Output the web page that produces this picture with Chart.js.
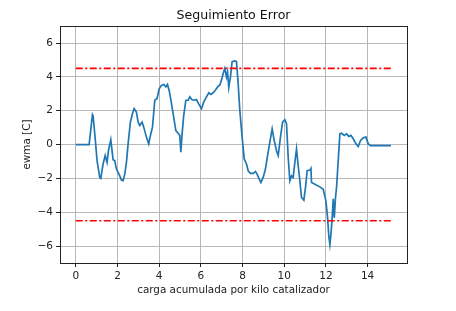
<!DOCTYPE html>
<html>
<head>
<meta charset="utf-8">
<script src="https://cdn.jsdelivr.net/npm/chart.js@4/dist/chart.umd.min.js"></script>
<style>
html,body{margin:0;padding:0;background:#fff;}
#wrap{width:456px;height:311px;}
</style>
</head>
<body>
<div id="wrap"><canvas id="c" width="456" height="311"></canvas></div>
<script>
const chartTitle = "Seguimiento Error";
const xAxisTitle = "carga acumulada por kilo catalizador";
const yAxisTitle = "ewma [C]";
const xTicks = [0, 2, 4, 6, 8, 10, 12, 14];
const yTicks = [-6, -4, -2, 0, 2, 4, 6];

const ewmaX = [0, 0.64, 0.8, 0.83, 0.94, 1.02, 1.15, 1.2, 1.31, 1.41, 1.5, 1.57, 1.68, 1.73, 1.79, 1.87, 1.95, 2.03, 2.11, 2.19, 2.27, 2.35, 2.43, 2.51, 2.62, 2.72, 2.8, 2.91, 2.99, 3.07, 3.18, 3.26, 3.39, 3.5, 3.58, 3.68, 3.79, 3.9, 4.0, 4.11, 4.22, 4.32, 4.4, 4.48, 4.56, 4.67, 4.8, 4.91, 4.99, 5.04, 5.1, 5.18, 5.28, 5.39, 5.47, 5.57, 5.66, 5.79, 5.89, 6.03, 6.14, 6.27, 6.38, 6.48, 6.59, 6.72, 6.83, 6.91, 6.99, 7.07, 7.15, 7.23, 7.28, 7.34, 7.42, 7.5, 7.63, 7.71, 7.79, 7.87, 7.98, 8.08, 8.19, 8.27, 8.38, 8.51, 8.62, 8.7, 8.8, 8.88, 8.99, 9.1, 9.2, 9.31, 9.42, 9.52, 9.63, 9.71, 9.82, 9.92, 10.03, 10.11, 10.19, 10.27, 10.35, 10.43, 10.51, 10.59, 10.67, 10.75, 10.83, 10.94, 11.02, 11.1, 11.23, 11.28, 11.31, 11.47, 11.71, 11.87, 12.0, 12.08, 12.14, 12.19, 12.24, 12.3, 12.35, 12.4, 12.46, 12.51, 12.59, 12.67, 12.75, 12.88, 12.99, 13.1, 13.2, 13.31, 13.44, 13.55, 13.66, 13.79, 13.92, 14.03, 14.14, 15.12];
const ewmaY = [0, 0, 1.77, 1.7, 0.24, -0.95, -1.95, -2.0, -1.15, -0.65, -1.05, -0.35, 0.28, -0.25, -0.9, -0.95, -1.45, -1.65, -1.85, -2.1, -2.13, -1.75, -1.05, 0.04, 1.33, 1.83, 2.12, 1.92, 1.33, 1.13, 1.33, 1.03, 0.44, 0.04, 0.54, 1.03, 2.62, 2.72, 3.3, 3.5, 3.55, 3.41, 3.55, 3.2, 2.66, 1.83, 0.83, 0.67, 0.54, -0.45, 0.63, 1.73, 2.62, 2.62, 2.82, 2.66, 2.62, 2.66, 2.42, 2.12, 2.52, 2.82, 3.06, 2.96, 3.06, 3.25, 3.45, 3.51, 3.81, 4.2, 4.5, 4.0, 4.3, 3.37, 4.0, 4.9, 4.94, 4.9, 3.6, 2.02, 0.44, -0.85, -1.15, -1.55, -1.7, -1.7, -1.59, -1.75, -2.04, -2.24, -1.94, -1.45, -0.65, 0.14, 0.93, 0.24, -0.36, -0.65, 0.44, 1.33, 1.47, 1.23, -0.75, -2.14, -1.85, -1.94, -1.05, -0.26, -1.25, -2.14, -3.13, -3.29, -2.54, -1.55, -1.51, -1.41, -2.24, -2.34, -2.5, -2.64, -3.33, -4.33, -5.42, -5.91, -5.32, -4.33, -3.21, -4.33, -3.13, -2.54, -0.95, 0.63, 0.67, 0.54, 0.63, 0.48, 0.54, 0.34, 0.04, -0.12, 0.24, 0.4, 0.44, 0.04, -0.06, -0.06];

const limitX = [0, 15.12];
const upperLimit = [4.5, 4.5];
const lowerLimit = [-4.5, -4.5];

const toPts = (xs, ys) => xs.map((x, i) => ({x: x, y: ys[i]}));
const FONT = "'DejaVu Sans', sans-serif";

const framePlugin = {
  id: 'frame',
  afterDatasetsDraw(chart) {
    const a = chart.chartArea, ctx = chart.ctx;
    ctx.save();
    ctx.strokeStyle = '#222';
    ctx.lineWidth = 1;
    ctx.strokeRect(Math.round(a.left) + 0.5, Math.round(a.top) + 0.5, Math.round(a.right - a.left), Math.round(a.bottom - a.top));
    ctx.restore();
  }
};

new Chart(document.getElementById('c'), {
  type: 'line',
  data: {
    datasets: [
      {data: toPts(limitX, upperLimit), borderColor: '#ff0000', borderWidth: 1.6, borderDash: [7, 2.5, 2, 2.5], pointRadius: 0, order: 0},
      {data: toPts(limitX, lowerLimit), borderColor: '#ff0000', borderWidth: 1.6, borderDash: [7, 2.5, 2, 2.5], pointRadius: 0, order: 0},
      {data: toPts(ewmaX, ewmaY), borderColor: '#1f77b4', borderWidth: 1.7, pointRadius: 0, tension: 0, order: 1}
    ]
  },
  options: {
    responsive: false,
    animation: false,
    layout: {padding: {left: 11, right: 0, top: 0, bottom: 0}},
    plugins: {
      legend: {display: false},
      tooltip: {enabled: false},
      title: {display: true, text: chartTitle, color: '#111', font: {family: FONT, size: 12.6, weight: 'normal'}, padding: {top: 8, bottom: 3}}
    },
    scales: {
      x: {
        type: 'linear', min: -0.757, max: 15.89,
        afterBuildTicks: s => { s.ticks = xTicks.map(v => ({value: v})); },
        afterFit: s => { s.height = 48; },
        grid: {color: '#b8b8b8', lineWidth: 1, tickColor: '#222', tickLength: 4, drawTicks: true},
        border: {display: false},
        ticks: {color: '#222', font: {family: FONT, size: 10.5}, padding: 3, maxRotation: 0, callback: v => String(v)},
        title: {display: true, text: xAxisTitle, color: '#222', font: {family: FONT, size: 10.4}, padding: {top: 0, bottom: 14}}
      },
      y: {
        type: 'linear', min: -7, max: 7,
        afterBuildTicks: s => { s.ticks = yTicks.map(v => ({value: v})); },
        afterFit: s => { s.width = 49; },
        grid: {color: '#b8b8b8', lineWidth: 1, tickColor: '#222', tickLength: 4, drawTicks: true},
        border: {display: false},
        ticks: {color: '#222', font: {family: FONT, size: 10.5}, padding: 3, callback: v => (v < 0 ? '\u2212' + Math.abs(v) : String(v))},
        title: {display: true, text: yAxisTitle, color: '#222', font: {family: FONT, size: 10.4}, padding: {top: 10, bottom: 0}}
      },
      y2: {
        type: 'linear', position: 'right', min: -7, max: 7,
        afterFit: s => { s.width = 49; },
        grid: {display: false, drawTicks: false},
        border: {display: false},
        ticks: {display: false},
        title: {display: false}
      }
    }
  },
  plugins: [framePlugin]
});
</script>
</body>
</html>
